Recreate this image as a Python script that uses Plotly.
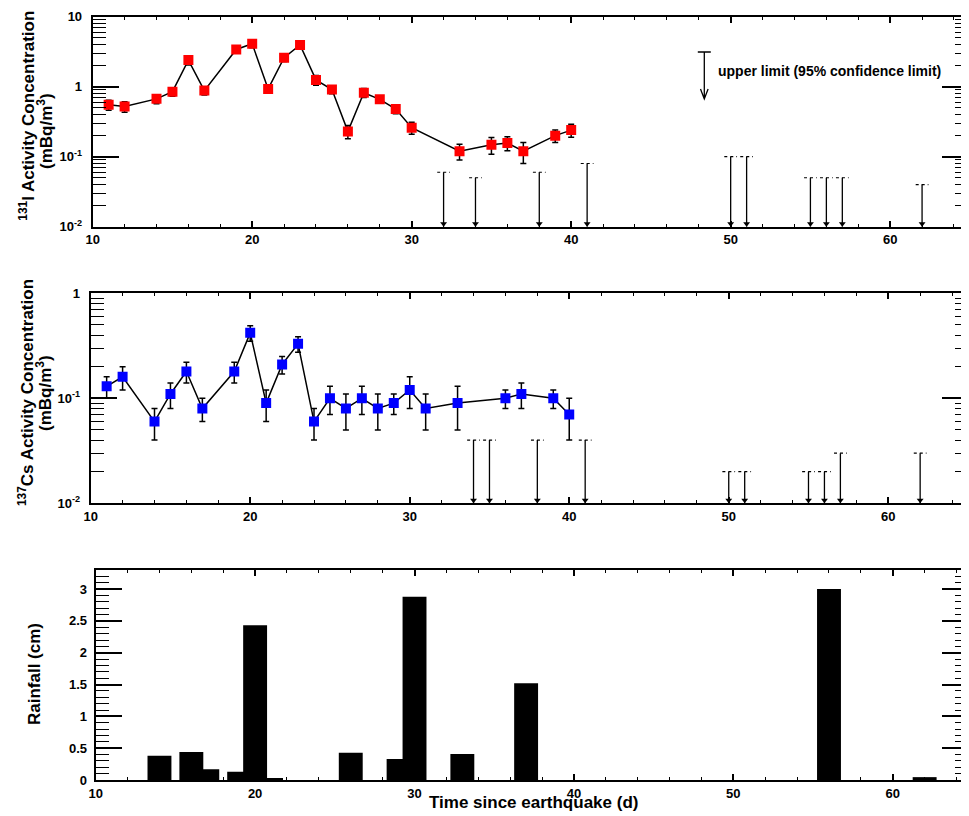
import numpy as np
import plotly.graph_objects as go

# ---------------- data ----------------
# 131I activity concentration (mBq/m3)
i_day = [11, 12, 14, 15, 16, 17, 19, 20, 21, 22, 23, 24, 25, 26, 27, 28, 29, 30, 33, 35, 36, 37, 39, 40]
i_val = [0.55, 0.52, 0.67, 0.85, 2.4, 0.88, 3.4, 4.1, 0.93, 2.6, 3.95, 1.25, 0.91, 0.23, 0.82, 0.66, 0.48,
         0.26, 0.12, 0.148, 0.157, 0.12, 0.20, 0.24]
i_err = [0.09, 0.09, 0.10, 0.12, 0.35, 0.12, 0.4, 0.5, 0.12, 0.3, 0.5, 0.2, 0.12, 0.05, 0.12, 0.08, 0.07,
         0.05, 0.03, 0.04, 0.035, 0.04, 0.04, 0.05]
i_lim_day = [32, 34, 38, 41, 50, 51, 55, 56, 57, 62]
i_lim_val = [0.06, 0.05, 0.06, 0.08, 0.1, 0.1, 0.05, 0.05, 0.05, 0.04]

# 137Cs activity concentration (mBq/m3)
cs_day = [11, 12, 14, 15, 16, 17, 19, 20, 21, 22, 23, 24, 25, 26, 27, 28, 29, 30, 31, 33, 36, 37, 39, 40]
cs_val = [0.13, 0.16, 0.06, 0.11, 0.18, 0.08, 0.18, 0.42, 0.09, 0.21, 0.33, 0.06, 0.10, 0.08, 0.10, 0.08,
          0.09, 0.12, 0.08, 0.09, 0.10, 0.11, 0.10, 0.07]
cs_err = [0.03, 0.04, 0.02, 0.03, 0.04, 0.02, 0.04, 0.07, 0.03, 0.04, 0.055, 0.02, 0.03, 0.03, 0.03, 0.03,
          0.02, 0.04, 0.03, 0.04, 0.02, 0.03, 0.02, 0.03]
cs_lim_day = [34, 35, 38, 41, 50, 51, 55, 56, 57, 62]
cs_lim_val = [0.04, 0.04, 0.04, 0.04, 0.02, 0.02, 0.02, 0.02, 0.03, 0.03]

# Rainfall (cm)
rain_day = [14, 16, 17, 19, 20, 21, 26, 29, 30, 33, 37, 56, 62]
rain_cm = [0.38, 0.44, 0.17, 0.13, 2.43, 0.02, 0.43, 0.33, 2.88, 0.41, 1.52, 3.0, 0.045]

x_ticks = [10, 20, 30, 40, 50, 60]

# ---------------- layout helpers ----------------
PAGE_OFF = 8                 # default page margin around the figure
W, H = 969 - PAGE_OFF, 816 - PAGE_OFF
FONT = "Liberation Sans"
BAR_W = 1.5        # bar width (days)
LIM_HALF = 0.4     # half width of dashed upper-limit segment (days)
ARROW_SIZE = 6


def px(x):
    return (x - PAGE_OFF) / W


def py(y):
    return 1 - (y - PAGE_OFF) / H


def log_minor(lo, hi):
    vals = []
    for e in range(lo, hi):
        for m in range(2, 10):
            vals.append(m * 10.0 ** e)
    return vals


def sci(v):
    e = int(round(np.log10(v)))
    if e == 0:
        return "1"
    if e == 1:
        return "10"
    return "10<sup>%d</sup>" % e


Y1_RANGE = [-2, 1]
Y2_RANGE = [-2, 0]

fig = go.Figure()

# I-131 panel
fig.add_trace(go.Scatter(
    x=i_day, y=i_val, mode="lines+markers", xaxis="x", yaxis="y",
    line=dict(color="black", width=1.5),
    marker=dict(symbol="square", size=10, color="#ff0000", line=dict(width=0)),
    error_y=dict(type="data", array=i_err, color="black", thickness=1.5, width=3),
    showlegend=False))

# Cs-137 panel
fig.add_trace(go.Scatter(
    x=cs_day, y=cs_val, mode="lines+markers", xaxis="x2", yaxis="y2",
    line=dict(color="black", width=1.5),
    marker=dict(symbol="square", size=10, color="#0000ff", line=dict(width=0)),
    error_y=dict(type="data", array=cs_err, color="black", thickness=1.5, width=3),
    showlegend=False))


def upper_limits(days, vals, xa, ya, ymin):
    # dashed level segments
    xs, ys = [], []
    for d, v in zip(days, vals):
        xs += [d - LIM_HALF, d + LIM_HALF, None]
        ys += [v, v, None]
    fig.add_trace(go.Scatter(x=xs, y=ys, mode="lines", xaxis=xa, yaxis=ya,
                             line=dict(color="black", width=1.2, dash="3px,3px"),
                             showlegend=False, hoverinfo="skip"))
    # vertical arrow shafts
    xs, ys = [], []
    for d, v in zip(days, vals):
        xs += [d, d, None]
        ys += [v, ymin, None]
    fig.add_trace(go.Scatter(x=xs, y=ys, mode="lines", xaxis=xa, yaxis=ya,
                             line=dict(color="black", width=1.3),
                             showlegend=False, hoverinfo="skip"))
    # arrow heads (tip on the axis)
    fig.add_trace(go.Scatter(x=days, y=[ymin] * len(days), mode="markers", xaxis=xa, yaxis=ya,
                             marker=dict(symbol="triangle-up", angle=180, standoff=ARROW_SIZE / 2,
                                         size=ARROW_SIZE, color="black", line=dict(width=0)),
                             cliponaxis=False, showlegend=False, hoverinfo="skip"))


upper_limits(i_lim_day, i_lim_val, "x", "y", 10.0 ** Y1_RANGE[0])
upper_limits(cs_lim_day, cs_lim_val, "x2", "y2", 10.0 ** Y2_RANGE[0])

# rainfall bars
fig.add_trace(go.Bar(x=rain_day, y=rain_cm, width=[BAR_W] * len(rain_day), xaxis="x3", yaxis="y3",
                     marker=dict(color="black", line=dict(width=0)), showlegend=False))

TF = dict(family=FONT, size=17, color="black", weight="bold")
annotations = [
    dict(xref="paper", yref="paper", x=px(26.7), y=py(116), textangle=-90,
         text="<sup>131</sup>I Activity Concentration", showarrow=False, font=TF,
         xanchor="center", yanchor="middle"),
    dict(xref="paper", yref="paper", x=px(45), y=py(131), textangle=-90,
         text="(mBq/m<sup>3</sup>)", showarrow=False, font=TF, xanchor="center", yanchor="middle"),
    dict(xref="paper", yref="paper", x=px(26), y=py(393), textangle=-90,
         text="<sup>137</sup>Cs Activity Concentration", showarrow=False, font=TF,
         xanchor="center", yanchor="middle"),
    dict(xref="paper", yref="paper", x=px(44), y=py(393), textangle=-90,
         text="(mBq/m<sup>3</sup>)", showarrow=False, font=TF, xanchor="center", yanchor="middle"),
    dict(xref="paper", yref="paper", x=px(34), y=py(674), textangle=-90,
         text="Rainfall (cm)", showarrow=False, font=TF, xanchor="center", yanchor="middle"),
    dict(xref="paper", yref="paper", x=px(533), y=py(802),
         text="Time since earthquake (d)", showarrow=False, font=TF, xanchor="center", yanchor="middle"),
    dict(xref="paper", yref="paper", x=px(716), y=py(70.5),
         text="upper limit (95% confidence limit)", showarrow=False,
         font=dict(family=FONT, size=14, color="black", weight="bold"), xanchor="left", yanchor="middle"),
]

# legend symbol for upper limit
lx, ltop, lbot = 704.3, 52, 99
legend_path = ("M %f,%f L %f,%f M %f,%f L %f,%f M %f,%f L %f,%f L %f,%f" % (
    px(lx), py(ltop), px(lx), py(lbot),
    px(lx - 6.5), py(ltop), px(lx + 6.5), py(ltop),
    px(lx - 3.8), py(lbot - 10), px(lx), py(lbot), px(lx + 3.8), py(lbot - 10)))
shapes = [dict(type="path", xref="paper", yref="paper", path=legend_path,
               line=dict(color="black", width=1.3))]

TICKF = dict(family=FONT, size=13, color="black", weight="bold")


def xaxis_cfg(domain, rng, anchor):
    return dict(domain=domain, range=rng, anchor=anchor, showline=True, linewidth=2, linecolor="black",
                mirror="ticks", ticks="inside", ticklen=6, tickwidth=1.5, tickcolor="black",
                tickmode="array", tickvals=x_ticks, ticktext=[str(t) for t in x_ticks],
                tickfont=TICKF, showgrid=False, zeroline=False, automargin=False,
                minor=dict(tickmode="linear", tick0=0, dtick=2, ticks="inside", ticklen=3,
                           tickwidth=1.2, tickcolor="black", showgrid=False))


def logy_cfg(domain, rng, anchor):
    major = [10.0 ** e for e in range(rng[0], rng[1] + 1)]
    return dict(domain=domain, type="log", range=rng, anchor=anchor, showline=True, linewidth=2,
                linecolor="black", mirror="ticks", ticks="inside", ticklen=26, tickwidth=1.5,
                tickcolor="black", tickmode="array", tickvals=major, ticktext=[sci(v) for v in major],
                tickfont=TICKF, showgrid=False, zeroline=False, automargin=False, ticklabelstandoff=6,
                minor=dict(tickmode="array", tickvals=log_minor(rng[0], rng[1]), ticks="inside",
                           ticklen=13, tickwidth=1.2, tickcolor="black", showgrid=False))


layout = dict(
    width=W, height=H, margin=dict(l=0, r=0, t=0, b=0),
    paper_bgcolor="white", plot_bgcolor="white", template="none",
    font=dict(family=FONT, size=13, color="black", weight="bold"),
    xaxis=xaxis_cfg([px(92.7), px(968)], [10, 64.88], "y"),
    yaxis=logy_cfg([py(226.7), py(16.7)], Y1_RANGE, "x"),
    xaxis2=xaxis_cfg([px(90.7), px(968)], [10, 65.0], "y2"),
    yaxis2=logy_cfg([py(503.3), py(293.3)], Y2_RANGE, "x2"),
    xaxis3=xaxis_cfg([px(95.7), px(968)], [10, 64.72], "y3"),
    yaxis3=dict(domain=[py(780), py(570)], range=[0, 3.3], anchor="x3", showline=True, linewidth=2,
                linecolor="black", mirror="ticks", ticks="inside", ticklen=26, tickwidth=1.5,
                tickcolor="black", tickmode="linear", tick0=0, dtick=0.5, tickfont=TICKF,
                showgrid=False, zeroline=False, automargin=False, ticklabelstandoff=4,
                minor=dict(tickmode="linear", tick0=0, dtick=0.1, ticks="inside", ticklen=13,
                           tickwidth=1.2, tickcolor="black", showgrid=False)),
    annotations=annotations,
    shapes=shapes,
    showlegend=False,
)
fig.update_layout(**layout)

fig.write_html("out.html")
